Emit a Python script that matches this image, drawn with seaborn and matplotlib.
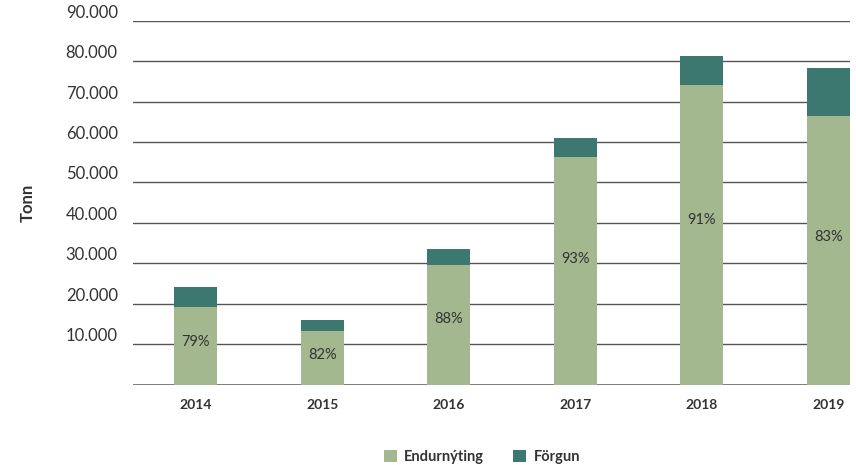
import matplotlib
matplotlib.use("Agg")
import matplotlib.pyplot as plt
import seaborn as sns
import pandas as pd
from matplotlib.patches import Patch

years = ["2014", "2015", "2016", "2017", "2018", "2019"]
endurnyting = [19300, 13300, 29600, 56300, 74100, 66400]
forgun = [4900, 2700, 3950, 4700, 7150, 11900]
percent_labels = ["79%", "82%", "88%", "93%", "91%", "83%"]
ytick_vals = [10000, 20000, 30000, 40000, 50000, 60000, 70000, 80000, 90000]
ytick_labels = ["10.000", "20.000", "30.000", "40.000", "50.000", "60.000", "70.000", "80.000", "90.000"]

c_light = "#A3B88F"
c_dark = "#3D7870"
txt = "#333333"

df = pd.DataFrame({"year": years, "endurnyting": endurnyting, "forgun": forgun})
df["total"] = df["endurnyting"] + df["forgun"]

sns.set_theme(style="white")
plt.rcParams["font.family"] = ["Lato", "DejaVu Sans"]

fig = plt.figure(figsize=(8.56, 4.65), dpi=100)
ax = fig.add_axes([0.1554, 0.1727, 0.993 - 0.1554, 0.9555 - 0.1727])

sns.barplot(data=df, x="year", y="total", color=c_dark, width=0.34,
            saturation=1, ax=ax, zorder=3, linewidth=0, edgecolor="none")
sns.barplot(data=df, x="year", y="endurnyting", color=c_light, width=0.34,
            saturation=1, ax=ax, zorder=3, linewidth=0, edgecolor="none")

for i, (g, lab) in enumerate(zip(endurnyting, percent_labels)):
    ax.text(i, g * 0.55, lab, ha="center", va="center", fontsize=10.5,
            color=txt, zorder=5)

ax.set_ylim(0, 90000)
ax.set_xlim(-0.494, 5.17)
ax.set_yticks(ytick_vals)
ax.set_yticklabels(ytick_labels, fontsize=12, color=txt)
ax.tick_params(axis="y", length=0, pad=11)
ax.tick_params(axis="x", length=0, pad=10)
for lbl in ax.get_xticklabels():
    lbl.set_fontweight("bold")
    lbl.set_fontsize(10)
    lbl.set_color(txt)
for lbl in ax.get_yticklabels():
    lbl.set_va("bottom")
ax.grid(axis="y", color="#555555", linewidth=1.0)
ax.set_axisbelow(True)
ax.axhline(0, color="#666666", linewidth=1.2, zorder=2)
for s in ax.spines.values():
    s.set_visible(False)
ax.set_xlabel("")
ax.set_ylabel("Tonn", fontsize=12, fontweight="bold", color=txt)
ax.yaxis.set_label_coords(-0.135, 0.5)

handles = [Patch(facecolor=c_light, edgecolor="none", label="Endurnýting"),
           Patch(facecolor=c_dark, edgecolor="none", label="Förgun")]
leg = fig.legend(handles=handles, loc="center", bbox_to_anchor=(0.563, 0.017),
                 ncol=2, frameon=False, fontsize=10.5, handlelength=0.9,
                 handleheight=0.9, columnspacing=2.0, handletextpad=0.5)
for t in leg.get_texts():
    t.set_fontweight("bold")
    t.set_color(txt)

fig.savefig("out.png", dpi=100)
